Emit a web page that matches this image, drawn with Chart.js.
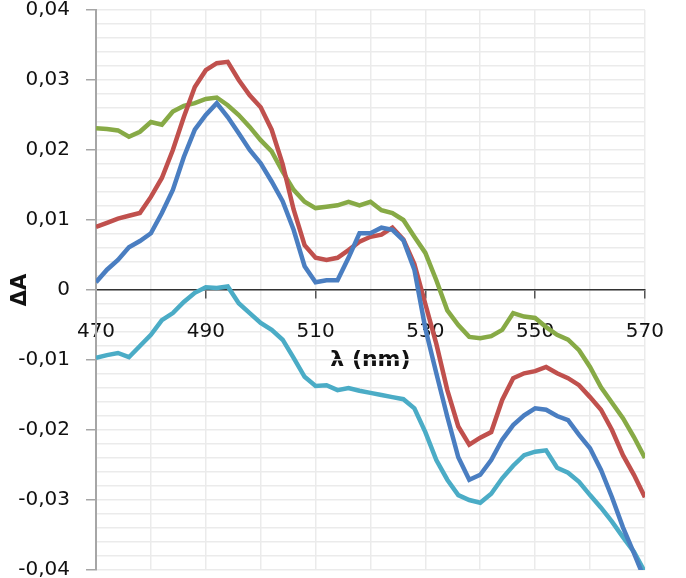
<!DOCTYPE html>
<html>
<head>
<meta charset="utf-8">
<script src="https://cdn.jsdelivr.net/npm/chart.js@4"></script>
<style>
  html, body { margin: 0; padding: 0; background: #fff; overflow: hidden; }
  #wrap { width: 686px; height: 612px; margin-top: -16px; position: relative; }
</style>
</head>
<body>
<div id="wrap"><canvas id="grafico"></canvas></div>
<script>
// wavelength (nm)
const nm = [470, 472, 474, 476, 478, 480, 482, 484, 486, 488,
            490, 492, 494, 496, 498, 500, 502, 504, 506, 508,
            510, 512, 514, 516, 518, 520, 522, 524, 526, 528,
            530, 532, 534, 536, 538, 540, 542, 544, 546, 548,
            550, 552, 554, 556, 558, 560, 562, 564, 566, 568, 570];

const verde = [0.0231, 0.0230, 0.0228, 0.0219, 0.0226, 0.0240, 0.0236, 0.0255, 0.0263, 0.0267,
               0.0273, 0.0275, 0.0264, 0.0250, 0.0233, 0.0214, 0.0198, 0.0169, 0.0143, 0.0126,
               0.0117, 0.0119, 0.0121, 0.0126, 0.0121, 0.0126, 0.0114, 0.0110, 0.0100, 0.0076,
               0.0053, 0.0014, -0.0029, -0.0050, -0.0067, -0.0069, -0.0066, -0.0057, -0.0033, -0.0038,
               -0.0040, -0.0053, -0.0064, -0.0071, -0.0086, -0.0110, -0.0139, -0.0161, -0.0183, -0.0210, -0.0240];

const vermelho = [0.0090, 0.0096, 0.0102, 0.0106, 0.0110, 0.0133, 0.0160, 0.0200, 0.0247, 0.0290,
                  0.0314, 0.0324, 0.0326, 0.0300, 0.0278, 0.0261, 0.0229, 0.0180, 0.0115, 0.0064,
                  0.0046, 0.0043, 0.0046, 0.0057, 0.0069, 0.0076, 0.0079, 0.0089, 0.0072, 0.0037,
                  -0.0020, -0.0077, -0.0143, -0.0195, -0.0221, -0.0211, -0.0203, -0.0157, -0.0126, -0.0119,
                  -0.0116, -0.0110, -0.0119, -0.0126, -0.0136, -0.0153, -0.0171, -0.0200, -0.0236, -0.0264, -0.0296];

const azul = [0.0011, 0.0029, 0.0043, 0.0061, 0.0070, 0.0081, 0.0110, 0.0143, 0.0190, 0.0229,
              0.0250, 0.0267, 0.0247, 0.0224, 0.0200, 0.0181, 0.0155, 0.0127, 0.0086, 0.0034,
              0.0011, 0.0014, 0.0014, 0.0046, 0.0081, 0.0081, 0.0089, 0.0086, 0.0071, 0.0029,
              -0.0055, -0.0119, -0.0181, -0.0239, -0.0271, -0.0264, -0.0243, -0.0214, -0.0193, -0.0179,
              -0.0169, -0.0171, -0.0180, -0.0186, -0.0207, -0.0226, -0.0257, -0.0296, -0.0339, -0.0376, -0.0414];

const ciano = [-0.0097, -0.0093, -0.0090, -0.0096, -0.0080, -0.0064, -0.0043, -0.0033, -0.0017, -0.0004,
               0.0004, 0.0003, 0.0005, -0.0019, -0.0033, -0.0047, -0.0057, -0.0071, -0.0097, -0.0124,
               -0.0137, -0.0136, -0.0143, -0.0140, -0.0144, -0.0147, -0.0150, -0.0153, -0.0156, -0.0169,
               -0.0203, -0.0243, -0.0271, -0.0293, -0.0300, -0.0304, -0.0291, -0.0269, -0.0251, -0.0236,
               -0.0231, -0.0229, -0.0254, -0.0261, -0.0274, -0.0293, -0.0311, -0.0331, -0.0353, -0.0374, -0.0403];

function pontos(valores) {
  return nm.map((x, i) => ({ x: x, y: valores[i] }));
}

function serie(valores, cor) {
  return {
    data: pontos(valores),
    borderColor: cor,
    borderWidth: 4.5,
    pointRadius: 0,
    tension: 0,
    fill: false,
  };
}

const fonte = "'DejaVu Sans', sans-serif";

let grafico = new Chart(document.getElementById("grafico"), {
  type: "line",
  data: {
    datasets: [
      serie(azul, "#4A7EC1"),
      serie(vermelho, "#C0504D"),
      serie(verde, "#87AA46"),
      serie(ciano, "#4BACC6"),
    ]
  },
  options: {
    responsive: true,
    maintainAspectRatio: false,
    animation: false,
    layout: { padding: { top: 10, right: 40, bottom: 10, left: 0 } },
    plugins: {
      legend: { display: false },
      tooltip: { enabled: false },
    },
    scales: {
      x: {
        type: "linear",
        position: { y: 0 },
        min: 470,
        max: 570,
        border: { color: "#333", width: 1.5 },
        grid: {
          color: "#ebebeb",
          lineWidth: 1.5,
          tickLength: 8,
          tickColor: (ctx) => (ctx.tick && ctx.tick.value % 20 === 10) ? "#555" : "rgba(0,0,0,0)",
        },
        ticks: {
          stepSize: 10,
          autoSkip: false,
          maxRotation: 0,
          padding: 22,
          color: "#111",
          font: { family: fonte, size: 20 },
          callback: (v) => (v % 20 === 10) ? String(v) : "",
        },
        title: {
          display: true,
          text: "λ (nm)",
          color: "#111",
          font: { family: fonte, size: 22, weight: "bold" },
          padding: { top: -19, bottom: 0 },
        },
      },
      y: {
        min: -0.04,
        max: 0.04,
        afterFit: (scale) => { scale.width = 96; },
        border: { color: "#a6a6a6", width: 2 },
        grid: {
          color: "#ebebeb",
          lineWidth: 1.5,
          tickLength: 10,
          tickColor: (ctx) => {
            const v = ctx.tick ? ctx.tick.value * 100 : 0.5;
            return Math.abs(v - Math.round(v)) < 1e-6 ? "#a6a6a6" : "rgba(0,0,0,0)";
          },
        },
        ticks: {
          stepSize: 0.002,
          autoSkip: false,
          padding: 16,
          color: "#111",
          font: { family: fonte, size: 20, lineHeight: 1 },
          callback: (v) => {
            const c = v * 100;
            if (Math.abs(c - Math.round(c)) > 1e-6) return "";
            const r = Math.round(c);
            if (r === 0) return "0";
            return (r / 100).toFixed(2).replace(".", ",");
          },
        },
        title: {
          display: true,
          text: "ΔA",
          color: "#111",
          font: { family: fonte, size: 21, weight: "bold" },
          padding: { top: 8, bottom: 0 },
        },
      },
    },
  },
});
</script>
</body>
</html>
